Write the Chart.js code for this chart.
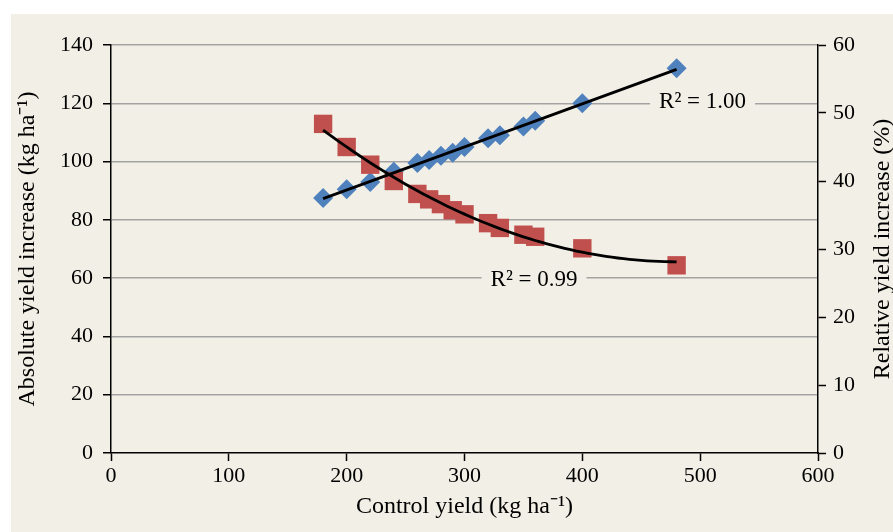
<!DOCTYPE html>
<html><head><meta charset="utf-8">
<script src="https://cdn.jsdelivr.net/npm/chart.js@4/dist/chart.umd.min.js"></script>
<style>html,body{margin:0;padding:0;background:#fff;}#wrap{width:893px;height:532px;position:relative;}</style>
</head><body><div id="wrap"><canvas id="c" width="893" height="532"></canvas></div>
<script>
// ---- data ----
const controlYield = [180, 200, 220, 240, 260, 270, 280, 290, 300, 320, 330, 350, 360, 400, 480];
const absoluteIncrease = [87.5, 90.5, 93, 96.5, 99.5, 100.5, 102, 103, 105, 108, 109, 112, 114, 120, 132];
const relativeIncrease = [48.4, 45.0, 42.4, 40.0, 38.1, 37.3, 36.6, 35.7, 35.1, 33.8, 33.1, 32.1, 31.8, 30.1, 27.6];
const xTickValues = [0, 100, 200, 300, 400, 500, 600];
const leftTickValues = [0, 20, 40, 60, 80, 100, 120, 140];
const rightTickValues = [0, 10, 20, 30, 40, 50, 60];
const r2Texts = ['R² = 1.00', 'R² = 0.99'];

const FONT = 'Liberation Serif, Times New Roman, serif';

// least-squares trendlines computed from the data (as the source chart's trendlines)
function linFit(xs, ys) {
  const n = xs.length;
  let sx = 0, sy = 0, sxx = 0, sxy = 0;
  for (let i = 0; i < n; i++) { sx += xs[i]; sy += ys[i]; sxx += xs[i] * xs[i]; sxy += xs[i] * ys[i]; }
  const b = (n * sxy - sx * sy) / (n * sxx - sx * sx);
  const a = (sy - b * sx) / n;
  return x => a + b * x;
}
function quadFit(xs, ys) {
  const S = [0, 0, 0, 0, 0], T = [0, 0, 0];
  for (let i = 0; i < xs.length; i++) {
    let p = 1;
    for (let k = 0; k < 5; k++) { S[k] += p; if (k < 3) T[k] += p * ys[i]; p *= xs[i]; }
  }
  const M = [[S[0], S[1], S[2], T[0]], [S[1], S[2], S[3], T[1]], [S[2], S[3], S[4], T[2]]];
  for (let c = 0; c < 3; c++) {
    for (let r = c + 1; r < 3; r++) {
      const f = M[r][c] / M[c][c];
      for (let k = c; k < 4; k++) M[r][k] -= f * M[c][k];
    }
  }
  const co = [0, 0, 0];
  for (let r = 2; r >= 0; r--) {
    let s = M[r][3];
    for (let k = r + 1; k < 3; k++) s -= M[r][k] * co[k];
    co[r] = s / M[r][r];
  }
  return x => co[0] + co[1] * x + co[2] * x * x;
}
const absFn = linFit(controlYield, absoluteIncrease);
const relFn = quadFit(controlYield, relativeIncrease);
const xMin = Math.min(...controlYield), xMax = Math.max(...controlYield);
const absTrend = [xMin, xMax].map(x => ({x, y: absFn(x)}));
const relTrend = [];
for (let x = xMin; x <= xMax; x += 5) relTrend.push({x, y: relFn(x)});

const bgPlugin = {
  id: 'bg',
  beforeDraw(chart) {
    const ctx = chart.ctx;
    ctx.save();
    ctx.fillStyle = '#fff';
    ctx.fillRect(0, 0, chart.width, chart.height);
    ctx.fillStyle = '#F2F0E6';
    ctx.fillRect(11, 14, chart.width - 11, chart.height - 14);
    ctx.restore();
  }
};

const labelPlugin = {
  id: 'labels',
  afterDatasetsDraw(chart) {
    const ctx = chart.ctx;
    const xs = chart.scales.x, ys = chart.scales.y;
    const anchors = [{x: 502, y: 120.4}, {x: 359, y: 59.4}];
    ctx.save();
    ctx.font = '23px ' + FONT;
    ctx.textAlign = 'center';
    ctx.textBaseline = 'middle';
    r2Texts.forEach((t, i) => {
      const px = xs.getPixelForValue(anchors[i].x);
      const py = ys.getPixelForValue(anchors[i].y);
      const w = ctx.measureText(t).width;
      ctx.fillStyle = '#F2F0E6';
      ctx.fillRect(px - w / 2 - 9, py - 12, w + 18, 24);
      ctx.fillStyle = '#000';
      ctx.fillText(t, px, py);
    });
    ctx.restore();
  },
  afterDraw(chart) {
    const ctx = chart.ctx;
    const ca = chart.chartArea;
    ctx.save();
    ctx.font = '24px ' + FONT;
    ctx.fillStyle = '#000';
    ctx.textAlign = 'center';
    ctx.textBaseline = 'middle';
    ctx.translate(chart.scales.y2.right - 10, (ca.top + ca.bottom) / 2);
    ctx.rotate(-Math.PI / 2);
    ctx.fillText('Relative yield increase (%)', 0, 0);
    ctx.restore();
  }
};

const tickFont = {family: FONT, size: 22};
const titleFont = {family: FONT, size: 24};

new Chart(document.getElementById('c'), {
  type: 'scatter',
  data: {
    datasets: [
      {label: 'trend abs', data: absTrend, yAxisID: 'y', showLine: true, borderColor: '#000', borderWidth: 2.8, pointRadius: 0, order: 0},
      {label: 'trend rel', data: relTrend, yAxisID: 'y2', showLine: true, borderColor: '#000', borderWidth: 2.8, pointRadius: 0, order: 0},
      {label: 'Relative', data: controlYield.map((x, i) => ({x, y: relativeIncrease[i]})), yAxisID: 'y2',
        pointStyle: 'rect', pointRadius: 13, backgroundColor: '#C0504D', borderWidth: 0, order: 1},
      {label: 'Absolute', data: controlYield.map((x, i) => ({x, y: absoluteIncrease[i]})), yAxisID: 'y',
        pointStyle: 'rectRot', pointRadius: 10, backgroundColor: '#4F81BD', borderWidth: 0, order: 2}
    ]
  },
  options: {
    responsive: false,
    animation: false,
    layout: {padding: {top: 45, left: 0, right: 0, bottom: 0}},
    plugins: {legend: {display: false}, tooltip: {enabled: false}},
    scales: {
      x: {
        type: 'linear', min: 0, max: 600,
        afterBuildTicks(s) { s.ticks = xTickValues.map(v => ({value: v})); },
        ticks: {color: '#000', font: tickFont, padding: 2, maxRotation: 0},
        grid: {drawOnChartArea: false, drawTicks: true, tickLength: 8, tickColor: '#000', tickWidth: 1.5},
        border: {color: '#000', width: 1.5},
        title: {display: true, text: 'Control yield (kg ha⁻¹)', color: '#000', font: titleFont, padding: {top: 0, bottom: 11}},
        afterFit(s) { s.height = 79; }
      },
      y: {
        position: 'left', min: 0, max: 140,
        afterBuildTicks(s) { s.ticks = leftTickValues.map(v => ({value: v})); },
        ticks: {color: '#000', font: tickFont, padding: 10},
        grid: {color: c => (c.tick && c.tick.value === 0) ? 'rgba(0,0,0,0)' : '#A3A3A3', lineWidth: 1.5,
          drawTicks: true, tickLength: 8, tickColor: '#000', tickWidth: 1.5},
        border: {color: '#000', width: 1.5},
        title: {display: true, text: 'Absolute yield increase (kg ha⁻¹)', color: '#000', font: titleFont, padding: {top: 13, bottom: 0}},
        afterFit(s) { s.width = 111; }
      },
      y2: {
        position: 'right', min: 0, max: 60,
        afterBuildTicks(s) { s.ticks = rightTickValues.map(v => ({value: v})); },
        ticks: {color: '#000', font: tickFont, padding: 7},
        grid: {drawOnChartArea: false, drawTicks: true, tickLength: 8, tickColor: '#000', tickWidth: 1.5},
        border: {color: '#000', width: 1.5},
        afterFit(s) { s.width = 75; }
      }
    }
  },
  plugins: [bgPlugin, labelPlugin]
});
</script></body></html>
